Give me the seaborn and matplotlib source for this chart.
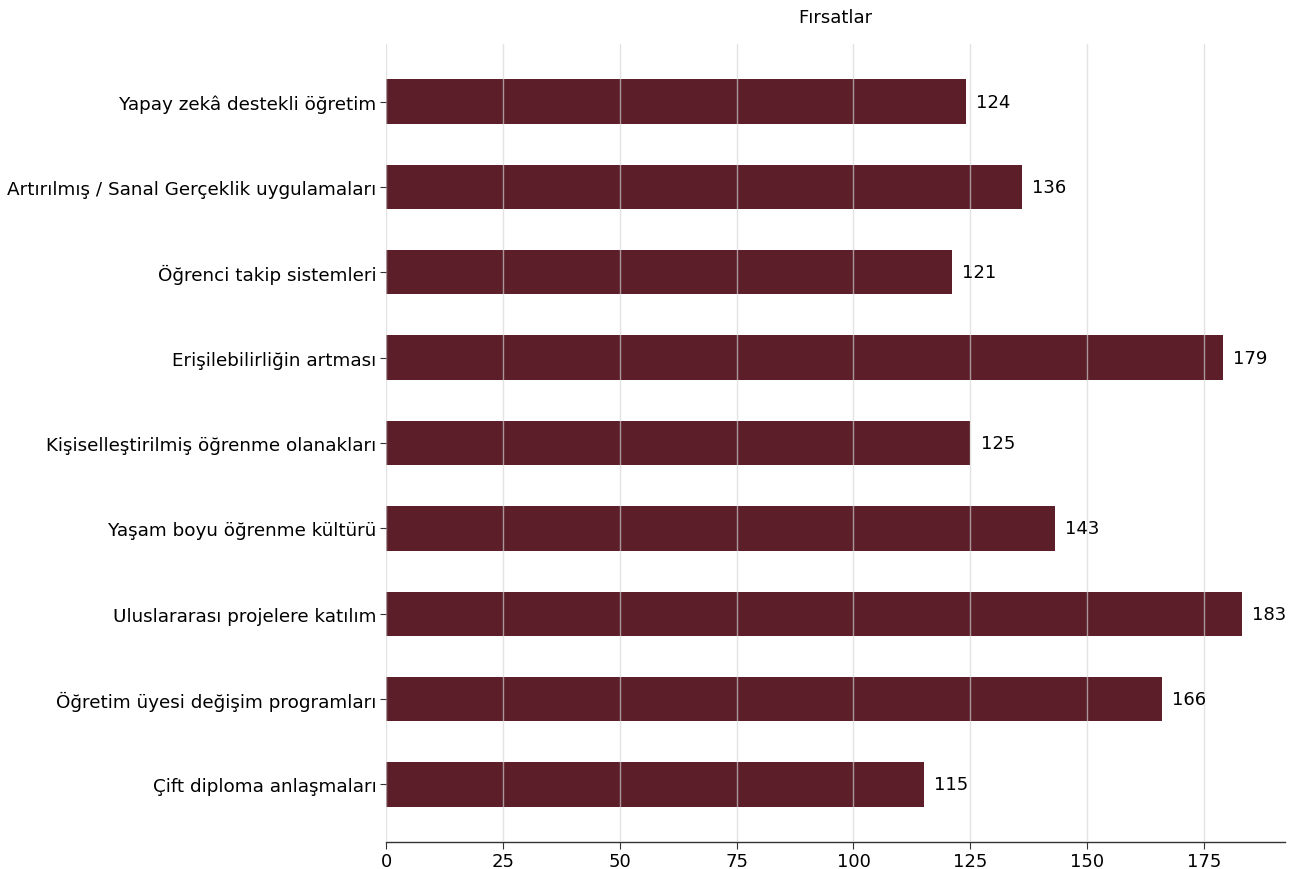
import matplotlib
matplotlib.use("Agg")
import matplotlib.pyplot as plt
import seaborn as sns
import pandas as pd

categories = [
    "Yapay zekâ destekli öğretim",
    "Artırılmış / Sanal Gerçeklik uygulamaları",
    "Öğrenci takip sistemleri",
    "Erişilebilirliğin artması",
    "Kişiselleştirilmiş öğrenme olanakları",
    "Yaşam boyu öğrenme kültürü",
    "Uluslararası projelere katılım",
    "Öğretim üyesi değişim programları",
    "Çift diploma anlaşmaları",
]
values = [124, 136, 121, 179, 125, 143, 183, 166, 115]
title = "Fırsatlar"
xticks = [0, 25, 50, 75, 100, 125, 150, 175]

sns.set_style("white")
plt.rcParams['font.family'] = ['DejaVu Sans']
plt.rcParams['text.color'] = 'black'
plt.rcParams['xtick.color'] = 'black'
plt.rcParams['ytick.color'] = 'black'

df = pd.DataFrame({"cat": categories, "val": values})

fig = plt.figure(figsize=(12.93, 8.70), dpi=100)
ax = fig.add_axes([386/1293, 1-843/870, (1285-386)/1293, (843-45)/870])

sns.barplot(data=df, y="cat", x="val", color="#5c1f2a", width=0.52,
            saturation=1, ax=ax, orient="h", zorder=2, edgecolor="none")

ax.set_xlim(0, 192.3)
ax.set_ylim(len(categories) - 0.5 + 0.175, -0.675)
ax.set_xticks(xticks)
ax.grid(axis="x", color="#d5d5d5", linewidth=1, zorder=3, alpha=0.65)
ax.set_axisbelow(False)
ax.grid(axis="y", visible=False)

for i, v in enumerate(values):
    ax.text(v + 2.2, i, str(v), va="center", ha="left", fontsize=13, color="black")

ax.set_xlabel("")
ax.set_ylabel("")
ax.tick_params(axis="y", labelsize=13.2, length=4, left=True, color="#333333", pad=3, labelcolor="black")
ax.tick_params(axis="x", labelsize=13, length=5, bottom=True, color="#333333", pad=2, labelcolor="black")
for s in ["top", "right", "left"]:
    ax.spines[s].set_visible(False)
ax.spines["bottom"].set_color("#333333")
ax.spines["bottom"].set_linewidth(1)

fig.text((386+1285)/2/1293, 1-18/870, title, ha="center", va="center", fontsize=13, color="black")

fig.savefig("out.png", dpi=100)
